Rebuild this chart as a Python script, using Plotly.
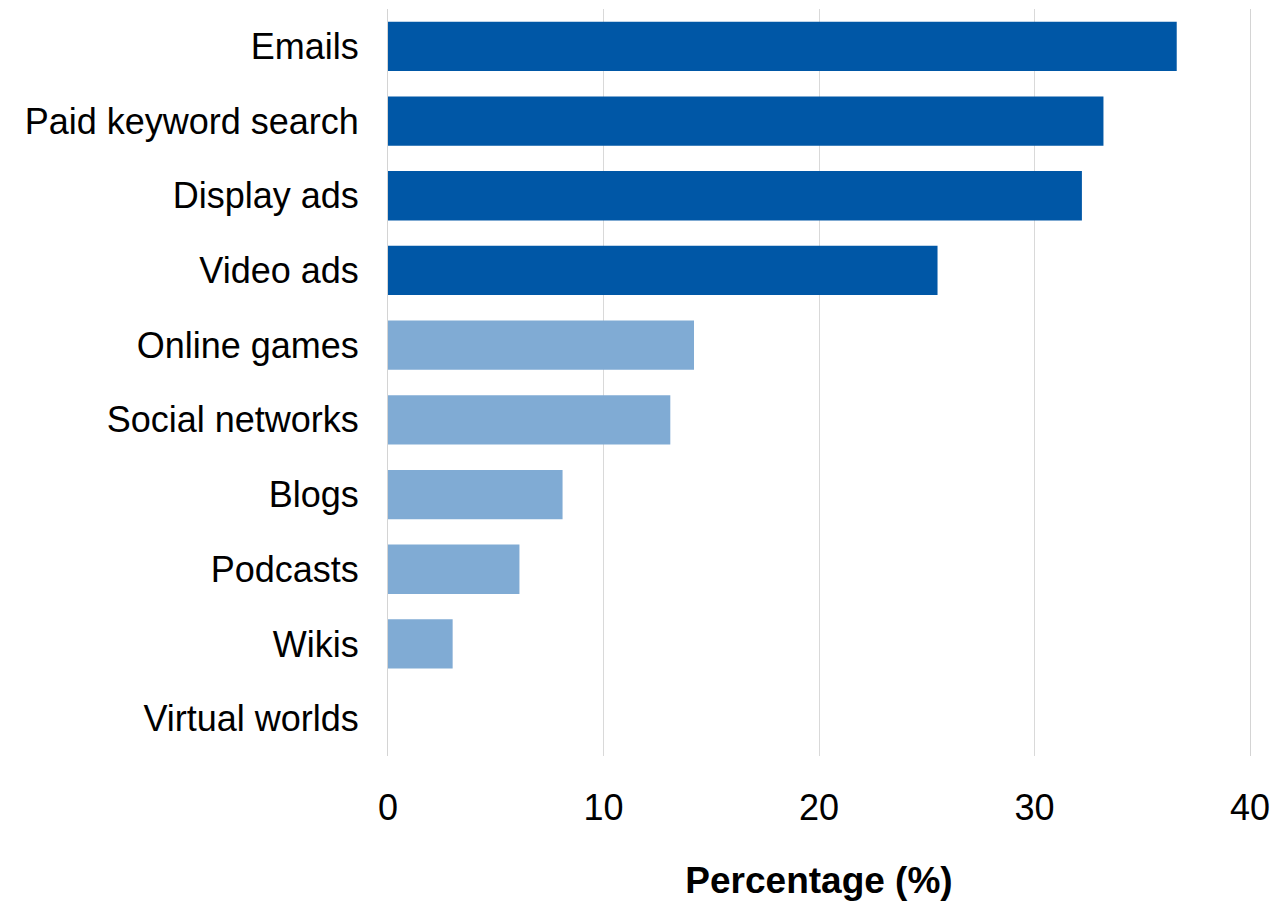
import plotly.graph_objects as go

categories = ["Emails", "Paid keyword search", "Display ads", "Video ads",
              "Online games", "Social networks", "Blogs", "Podcasts",
              "Wikis", "Virtual worlds"]
values = [36.6, 33.2, 32.2, 25.5, 14.2, 13.1, 8.1, 6.1, 3.0, 0.0]
dark_color = "#0057A6"
light_color = "#80ABD4"
colors = [dark_color] * 4 + [light_color] * 6
x_ticks = [0, 10, 20, 30, 40]

fig = go.Figure(go.Bar(
    y=categories, x=values, orientation="h",
    marker=dict(color=colors, line=dict(width=0)),
    width=0.66,
))

font_family = "Liberation Sans, Arial, sans-serif"
fig.update_layout(
    width=1279, height=903,
    margin=dict(l=388, r=26, t=9, b=147),
    paper_bgcolor="white", plot_bgcolor="white",
    showlegend=False,
    font=dict(family=font_family, size=36, color="black"),
)
fig.update_xaxes(
    range=[0, 40], tickvals=x_ticks, ticktext=[str(t) for t in x_ticks],
    showgrid=True, gridcolor="#d9d9d9", gridwidth=1,
    zeroline=False, showline=False, ticks="",
    ticklabelstandoff=27,
    tickfont=dict(size=36),
    title=dict(text="<b>Percentage (%)</b>", font=dict(size=37), standoff=40),
)
fig.update_yaxes(
    categoryorder="array", categoryarray=categories, autorange="reversed",
    showgrid=False, zeroline=False,
    showline=True, linecolor="#d4d4d4", linewidth=1, mirror=True,
    ticks="",
    ticklabelstandoff=21,
    tickfont=dict(size=36),
)

fig.write_html("out.html")
